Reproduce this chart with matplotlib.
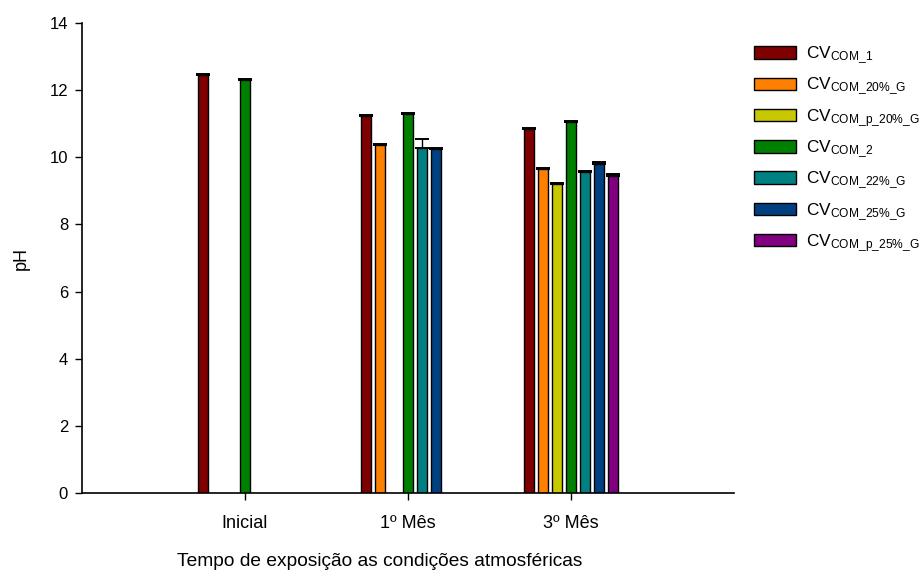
import numpy as np
import matplotlib
matplotlib.use("Agg")
import matplotlib.pyplot as plt
from matplotlib.patches import Patch

plt.rcParams['font.family'] = ['Liberation Sans', 'DejaVu Sans']
plt.rcParams['mathtext.fontset'] = 'custom'
plt.rcParams['mathtext.rm'] = 'Liberation Sans'
plt.rcParams['mathtext.it'] = 'Liberation Sans'
plt.rcParams['mathtext.bf'] = 'Liberation Sans'

# Data
periods = ["Inicial", "1º Mês", "3º Mês"]
series = ["COM\\_1", "COM\\_20\\%\\_G", "COM\\_p\\_20\\%\\_G", "COM\\_2",
          "COM\\_22\\%\\_G", "COM\\_25\\%\\_G", "COM\\_p\\_25\\%\\_G"]
colors = ["#7f0000", "#ff8000", "#c8c800", "#008000", "#008080", "#004080", "#800080"]

nan = np.nan
ph_com_1 = [12.45, 11.23, 10.84]
ph_com_20g = [nan, 10.36, 9.64]
ph_com_p20g = [nan, nan, 9.20]
ph_com_2 = [12.29, 11.28, 11.04]
ph_com_22g = [nan, 10.28, 9.56]
ph_com_25g = [nan, 10.25, 9.81]
ph_com_p25g = [nan, nan, 9.45]

err_com_1 = [0.03, 0.03, 0.03]
err_com_20g = [nan, 0.03, 0.04]
err_com_p20g = [nan, nan, 0.03]
err_com_2 = [0.03, 0.03, 0.04]
err_com_22g = [nan, 0.27, 0.04]
err_com_25g = [nan, 0.03, 0.04]
err_com_p25g = [nan, nan, 0.04]

values = [ph_com_1, ph_com_20g, ph_com_p20g, ph_com_2, ph_com_22g, ph_com_25g, ph_com_p25g]
errors = [err_com_1, err_com_20g, err_com_p20g, err_com_2, err_com_22g, err_com_25g, err_com_p25g]

fig = plt.figure(figsize=(9.22, 5.71), dpi=100)
ax = fig.add_axes([0.0889, 0.1366, 0.7072, 0.8231])

x = np.arange(1, len(periods) + 1)
slot = 0.6 / len(series)
width = slot * 0.72

for i, (vals, errs, col) in enumerate(zip(values, errors, colors)):
    offs = x + (i - (len(series) - 1) / 2) * slot
    v = np.array(vals, dtype=float)
    e = np.array(errs, dtype=float)
    mask = ~np.isnan(v)
    ax.bar(offs[mask], v[mask], width=width, color=col, edgecolor="black",
           linewidth=1.0, zorder=2)
    ax.errorbar(offs[mask], v[mask], yerr=[np.zeros(mask.sum()), e[mask]],
                fmt="none", ecolor="black", elinewidth=1.0, capsize=5,
                capthick=1.4, zorder=3)

ax.set_xlim(0, 4)
ax.set_ylim(0, 14)
ax.set_yticks(np.arange(0, 15, 2))
ax.set_xticks(x)
ax.set_xticklabels(periods)
ax.tick_params(axis="both", direction="out", length=5, width=1, colors="black")
ax.tick_params(axis="y", labelsize=12, pad=5)
ax.tick_params(axis="x", labelsize=13, pad=11)
ax.spines["top"].set_visible(False)
ax.spines["right"].set_visible(False)
for s in ("left", "bottom"):
    ax.spines[s].set_linewidth(1.2)

ax.set_ylabel("pH", fontsize=13)
ax.yaxis.set_label_coords(-0.08, 0.5)
ax.set_xlabel("Tempo de exposição as condições atmosféricas", fontsize=13.8)
ax.xaxis.set_label_coords(0.457, -0.145)
ax.xaxis.label.set_va("center")

handles = [Patch(facecolor=c, edgecolor="black", linewidth=1.0) for c in colors]
labels = [r"CV$_{\mathrm{" + s + "}}$" for s in series]
fig.legend(handles, labels, loc="upper left", bbox_to_anchor=(0.818, 0.922),
           frameon=False, fontsize=12.4, handlelength=2.4, handleheight=0.75,
           handletextpad=0.6, labelspacing=0.55, borderaxespad=0,
           borderpad=0)

fig.savefig("out.png", dpi=100)
